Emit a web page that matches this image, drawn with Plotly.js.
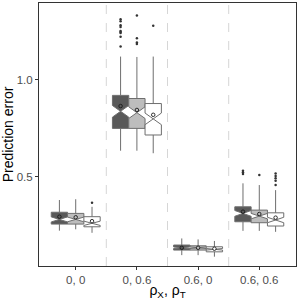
<!DOCTYPE html>
<html><head><meta charset="utf-8">
<script src="https://cdn.plot.ly/plotly-3.0.1.min.js"></script>
<style>html,body{margin:0;padding:0;background:#fff}#c{width:300px;height:300px}</style>
</head><body><div id="c"></div>
<script>
const categories = ["0, 0", "0, 0.6", "0.6, 0", "0.6, 0.6"];
const groupNames = ["A", "B", "C"];
const fills = ["#595959", "#bdbdbd", "#ffffff"];

// per group, per category
const q1 = [[0.255, 0.748, 0.121, 0.267], [0.255, 0.748, 0.121, 0.262], [0.241, 0.714, 0.112, 0.245]];
const med = [[0.279, 0.836, 0.133, 0.310], [0.279, 0.829, 0.133, 0.296], [0.259, 0.797, 0.125, 0.276]];
const q3 = [[0.316, 0.918, 0.147, 0.344], [0.310, 0.902, 0.143, 0.327], [0.293, 0.876, 0.138, 0.313]];
const lowW = [[0.221, 0.633, 0.095, 0.220], [0.228, 0.633, 0.095, 0.220], [0.210, 0.620, 0.087, 0.215]];
const highW = [[0.379, 1.118, 0.181, 0.465], [0.383, 1.116, 0.176, 0.456], [0.344, 1.118, 0.168, 0.430]];
const means = [[0.293, 0.863, 0.133, 0.319], [0.290, 0.843, 0.133, 0.307], [0.270, 0.818, 0.128, 0.288]];
const notch = [[0.013, 0.030, 0.004, 0.015], [0.012, 0.030, 0.004, 0.014], [0.011, 0.030, 0.004, 0.014]];
// outliers: [group][category] -> list
const outliers = [
  [[], [1.31, 1.30, 1.28, 1.27, 1.25, 1.245, 1.24, 1.22, 1.17], [], [0.530, 0.522, 0.513]],
  [[], [1.33, 1.212, 1.19, 1.183], [], [0.508]],
  [[0.365], [1.277], [], [0.516, 0.503, 0.491, 0.478, 0.456]]
];

const dodge = 0.8 / groupNames.length;
const traces = [];
groupNames.forEach((g, gi) => {
  const off = (gi - (groupNames.length - 1) / 2) * dodge;
  const xs = categories.map((c, ci) => ci + off);
  traces.push({
    type: 'box', name: g, x: xs,
    q1: q1[gi], median: med[gi], q3: q3[gi],
    lowerfence: lowW[gi], upperfence: highW[gi], notchspan: notch[gi],
    notched: true, notchwidth: 0.5, width: dodge, whiskerwidth: 0,
    boxpoints: false, fillcolor: fills[gi],
    line: {color: '#6e6e6e', width: 1}, hoverinfo: 'skip'
  });
  const ox = [], oy = [];
  outliers[gi].forEach((arr, ci) => arr.forEach(v => { ox.push(ci + off); oy.push(v); }));
  traces.push({type: 'scatter', mode: 'markers', x: ox, y: oy,
    marker: {color: '#333333', size: 2.5}, hoverinfo: 'skip'});
  traces.push({type: 'scatter', mode: 'markers', x: xs, y: means[gi],
    marker: {color: fills[gi], size: 3.5, line: {color: '#1a1a1a', width: 0.9}}, hoverinfo: 'skip'});
});

const shapes = categories.slice(1).map((c, i) => ({
  type: 'line', xref: 'x', yref: 'paper', x0: i + 0.5, x1: i + 0.5, y0: 0, y1: 1,
  line: {color: '#d6d6d6', width: 1, dash: 'dash'}, layer: 'below'
}));

const layout = {
  width: 300, height: 300,
  margin: {l: 39, r: 4, t: 3, b: 34},
  paper_bgcolor: '#fff', plot_bgcolor: '#fff',
  showlegend: false, boxmode: 'overlay',
  font: {family: 'Liberation Sans, Arial, sans-serif', color: '#000'},
  shapes: shapes,
  xaxis: {
    range: [-0.6, 3.6], tickvals: categories.map((c, i) => i), ticktext: categories,
    showgrid: false, zeroline: false, showline: true, linecolor: '#333', linewidth: 1, mirror: true,
    ticks: 'outside', ticklen: 3, tickcolor: '#333',
    tickfont: {size: 11.5, color: '#4d4d4d'},
    title: {text: 'ρ<sub>X</sub>, ρ<sub>T</sub>', font: {size: 14, color: '#000'}, standoff: 0}
  },
  yaxis: {
    range: [0.039, 1.394], tickvals: [0.5, 1.0], ticktext: ['0.5', '1.0'],
    showgrid: false, zeroline: false, showline: true, linecolor: '#333', linewidth: 1, mirror: true,
    ticks: 'outside', ticklen: 3, tickcolor: '#333',
    tickfont: {size: 11.5, color: '#4d4d4d'},
    title: {text: 'Prediction error', font: {size: 14, color: '#000'}, standoff: 3}
  }
};
Plotly.newPlot('c', traces, layout, {displayModeBar: false, staticPlot: true});
</script></body></html>
